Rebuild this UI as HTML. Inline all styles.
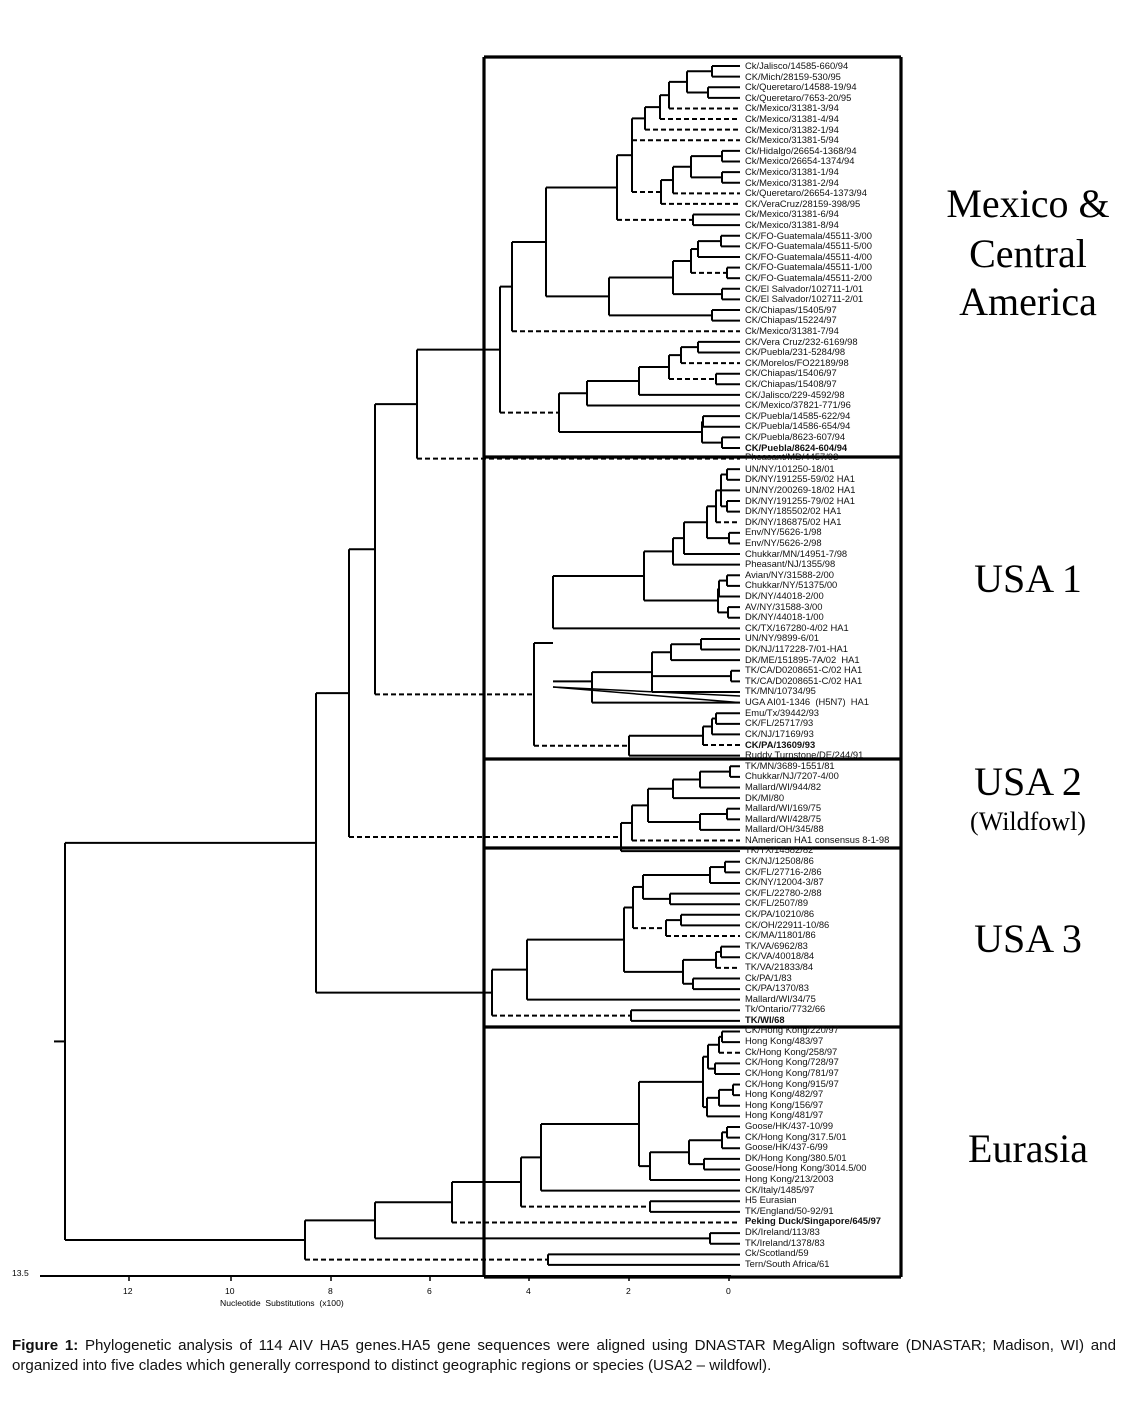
<!DOCTYPE html>
<html><head><meta charset="utf-8">
<style>
body{margin:0;background:#fff;}
#w{position:relative;width:1128px;height:1422px;overflow:hidden;background:#fff;font-family:"Liberation Sans",Arial,sans-serif;}
.l{position:absolute;left:745px;font-size:9.4px;line-height:10px;white-space:nowrap;color:#111;}
.b{font-weight:bold;}
.big{position:absolute;font-family:"Liberation Serif",serif;font-size:40px;text-align:center;width:240px;left:908px;line-height:44px;}
.t{position:absolute;font-size:8.6px;}
.cap{position:absolute;left:12px;width:1104px;font-size:15.1px;line-height:20px;color:#111;white-space:nowrap;}
svg{position:absolute;left:0;top:0;}
</style></head><body><div id="w">
<svg id="s" width="1128" height="1422"></svg>
<div class="l" style="top:61px">Ck/Jalisco/14585-660/94</div>
<div class="l" style="top:72px">CK/Mich/28159-530/95</div>
<div class="l" style="top:82px">Ck/Queretaro/14588-19/94</div>
<div class="l" style="top:93px">Ck/Queretaro/7653-20/95</div>
<div class="l" style="top:103px">Ck/Mexico/31381-3/94</div>
<div class="l" style="top:114px">Ck/Mexico/31381-4/94</div>
<div class="l" style="top:125px">Ck/Mexico/31382-1/94</div>
<div class="l" style="top:135px">Ck/Mexico/31381-5/94</div>
<div class="l" style="top:146px">Ck/Hidalgo/26654-1368/94</div>
<div class="l" style="top:156px">Ck/Mexico/26654-1374/94</div>
<div class="l" style="top:167px">Ck/Mexico/31381-1/94</div>
<div class="l" style="top:178px">Ck/Mexico/31381-2/94</div>
<div class="l" style="top:188px">Ck/Queretaro/26654-1373/94</div>
<div class="l" style="top:199px">CK/VeraCruz/28159-398/95</div>
<div class="l" style="top:209px">Ck/Mexico/31381-6/94</div>
<div class="l" style="top:220px">Ck/Mexico/31381-8/94</div>
<div class="l" style="top:231px">CK/FO-Guatemala/45511-3/00</div>
<div class="l" style="top:241px">CK/FO-Guatemala/45511-5/00</div>
<div class="l" style="top:252px">CK/FO-Guatemala/45511-4/00</div>
<div class="l" style="top:262px">CK/FO-Guatemala/45511-1/00</div>
<div class="l" style="top:273px">CK/FO-Guatemala/45511-2/00</div>
<div class="l" style="top:284px">CK/El Salvador/102711-1/01</div>
<div class="l" style="top:294px">CK/El Salvador/102711-2/01</div>
<div class="l" style="top:305px">CK/Chiapas/15405/97</div>
<div class="l" style="top:315px">CK/Chiapas/15224/97</div>
<div class="l" style="top:326px">Ck/Mexico/31381-7/94</div>
<div class="l" style="top:337px">CK/Vera Cruz/232-6169/98</div>
<div class="l" style="top:347px">CK/Puebla/231-5284/98</div>
<div class="l" style="top:358px">CK/Morelos/FO22189/98</div>
<div class="l" style="top:368px">CK/Chiapas/15406/97</div>
<div class="l" style="top:379px">CK/Chiapas/15408/97</div>
<div class="l" style="top:390px">CK/Jalisco/229-4592/98</div>
<div class="l" style="top:400px">CK/Mexico/37821-771/96</div>
<div class="l" style="top:411px">CK/Puebla/14585-622/94</div>
<div class="l" style="top:421px">CK/Puebla/14586-654/94</div>
<div class="l" style="top:432px">CK/Puebla/8623-607/94</div>
<div class="l b" style="top:443px">CK/Puebla/8624-604/94</div>
<div class="l" style="top:452px">Pheasant/MD/4457/93</div>
<div class="l" style="top:464px">UN/NY/101250-18/01</div>
<div class="l" style="top:474px">DK/NY/191255-59/02 HA1</div>
<div class="l" style="top:485px">UN/NY/200269-18/02 HA1</div>
<div class="l" style="top:496px">DK/NY/191255-79/02 HA1</div>
<div class="l" style="top:506px">DK/NY/185502/02 HA1</div>
<div class="l" style="top:517px">DK/NY/186875/02 HA1</div>
<div class="l" style="top:527px">Env/NY/5626-1/98</div>
<div class="l" style="top:538px">Env/NY/5626-2/98</div>
<div class="l" style="top:549px">Chukkar/MN/14951-7/98</div>
<div class="l" style="top:559px">Pheasant/NJ/1355/98</div>
<div class="l" style="top:570px">Avian/NY/31588-2/00</div>
<div class="l" style="top:580px">Chukkar/NY/51375/00</div>
<div class="l" style="top:591px">DK/NY/44018-2/00</div>
<div class="l" style="top:602px">AV/NY/31588-3/00</div>
<div class="l" style="top:612px">DK/NY/44018-1/00</div>
<div class="l" style="top:623px">CK/TX/167280-4/02 HA1</div>
<div class="l" style="top:633px">UN/NY/9899-6/01</div>
<div class="l" style="top:644px">DK/NJ/117228-7/01-HA1</div>
<div class="l" style="top:655px">DK/ME/151895-7A/02&nbsp; HA1</div>
<div class="l" style="top:665px">TK/CA/D0208651-C/02 HA1</div>
<div class="l" style="top:676px">TK/CA/D0208651-C/02 HA1</div>
<div class="l" style="top:686px">TK/MN/10734/95</div>
<div class="l" style="top:697px">UGA AI01-1346&nbsp; (H5N7)&nbsp; HA1</div>
<div class="l" style="top:708px">Emu/Tx/39442/93</div>
<div class="l" style="top:718px">CK/FL/25717/93</div>
<div class="l" style="top:729px">CK/NJ/17169/93</div>
<div class="l b" style="top:740px">CK/PA/13609/93</div>
<div class="l" style="top:750px">Ruddy Turnstone/DE/244/91</div>
<div class="l" style="top:761px">TK/MN/3689-1551/81</div>
<div class="l" style="top:771px">Chukkar/NJ/7207-4/00</div>
<div class="l" style="top:782px">Mallard/WI/944/82</div>
<div class="l" style="top:793px">DK/MI/80</div>
<div class="l" style="top:803px">Mallard/WI/169/75</div>
<div class="l" style="top:814px">Mallard/WI/428/75</div>
<div class="l" style="top:824px">Mallard/OH/345/88</div>
<div class="l" style="top:835px">NAmerican HA1 consensus 8-1-98</div>
<div class="l" style="top:845px">TK/TX/14582/82</div>
<div class="l" style="top:856px">CK/NJ/12508/86</div>
<div class="l" style="top:867px">CK/FL/27716-2/86</div>
<div class="l" style="top:877px">CK/NY/12004-3/87</div>
<div class="l" style="top:888px">CK/FL/22780-2/88</div>
<div class="l" style="top:898px">CK/FL/2507/89</div>
<div class="l" style="top:909px">CK/PA/10210/86</div>
<div class="l" style="top:920px">CK/OH/22911-10/86</div>
<div class="l" style="top:930px">CK/MA/11801/86</div>
<div class="l" style="top:941px">TK/VA/6962/83</div>
<div class="l" style="top:951px">CK/VA/40018/84</div>
<div class="l" style="top:962px">TK/VA/21833/84</div>
<div class="l" style="top:973px">Ck/PA/1/83</div>
<div class="l" style="top:983px">CK/PA/1370/83</div>
<div class="l" style="top:994px">Mallard/WI/34/75</div>
<div class="l" style="top:1004px">Tk/Ontario/7732/66</div>
<div class="l b" style="top:1015px">TK/WI/68</div>
<div class="l" style="top:1025px">CK/Hong Kong/220/97</div>
<div class="l" style="top:1036px">Hong Kong/483/97</div>
<div class="l" style="top:1047px">Ck/Hong Kong/258/97</div>
<div class="l" style="top:1057px">CK/Hong Kong/728/97</div>
<div class="l" style="top:1068px">CK/Hong Kong/781/97</div>
<div class="l" style="top:1079px">CK/Hong Kong/915/97</div>
<div class="l" style="top:1089px">Hong Kong/482/97</div>
<div class="l" style="top:1100px">Hong Kong/156/97</div>
<div class="l" style="top:1110px">Hong Kong/481/97</div>
<div class="l" style="top:1121px">Goose/HK/437-10/99</div>
<div class="l" style="top:1132px">CK/Hong Kong/317.5/01</div>
<div class="l" style="top:1142px">Goose/HK/437-6/99</div>
<div class="l" style="top:1153px">DK/Hong Kong/380.5/01</div>
<div class="l" style="top:1163px">Goose/Hong Kong/3014.5/00</div>
<div class="l" style="top:1174px">Hong Kong/213/2003</div>
<div class="l" style="top:1185px">CK/Italy/1485/97</div>
<div class="l" style="top:1195px">H5 Eurasian</div>
<div class="l" style="top:1206px">TK/England/50-92/91</div>
<div class="l b" style="top:1216px">Peking Duck/Singapore/645/97</div>
<div class="l" style="top:1227px">DK/Ireland/113/83</div>
<div class="l" style="top:1238px">TK/Ireland/1378/83</div>
<div class="l" style="top:1248px">Ck/Scotland/59</div>
<div class="l" style="top:1259px">Tern/South Africa/61</div>

<div class="big" style="top:182px">Mexico &amp;</div>
<div class="big" style="top:232px">Central</div>
<div class="big" style="top:280px">America</div>
<div class="big" style="top:557px">USA 1</div>
<div class="big" style="top:760px">USA 2</div>
<div class="big" style="top:806px;font-size:26px;line-height:32px">(Wildfowl)</div>
<div class="big" style="top:917px">USA 3</div>
<div class="big" style="top:1127px">Eurasia</div>

<div class="t" style="left:12px;top:1268px">13.5</div>
<div class="t" style="left:123px;top:1286px">12</div>
<div class="t" style="left:225px;top:1286px">10</div>
<div class="t" style="left:328px;top:1286px">8</div>
<div class="t" style="left:427px;top:1286px">6</div>
<div class="t" style="left:526px;top:1286px">4</div>
<div class="t" style="left:626px;top:1286px">2</div>
<div class="t" style="left:726px;top:1286px">0</div>
<div class="t" style="left:220px;top:1298px">Nucleotide&nbsp; Substitutions&nbsp; (x100)</div>

<div class="cap" style="top:1336px;white-space:normal;text-align:justify;text-align-last:justify;height:20px;overflow:hidden"><b>Figure 1:</b> Phylogenetic analysis of 114 AIV HA5 genes.HA5 gene sequences were aligned using DNASTAR MegAlign software (DNASTAR; Madison, WI) and</div>
<div class="cap" style="top:1356px">organized into five clades which generally correspond to distinct geographic regions or species (USA2 – wildfowl).</div>
</div>
<script>
var S=document.getElementById('s'),out='';
function Y(i){return 66+i*10.61;}
function ln(x1,y1,x2,y2,d,w){out+='<line x1="'+x1+'" y1="'+y1+'" x2="'+x2+'" y2="'+y2+'" stroke="#000" stroke-width="'+(w||2)+'"'+(d?' stroke-dasharray="5,3"':'')+'/>';}
function N(x){return {x:x,c:[].slice.call(arguments,1)};}
function D(n){return {dash:true,n:n};}
function lay(n){
 if(typeof n==='number') return {x:740,y:Y(n)};
 if(n.stub) return {x:n.x,y:n.y};
 var ps=n.c.map(function(ch){var d=false;if(ch&&ch.dash){d=true;ch=ch.n;}var p=lay(ch);p.d=d;return p;});
 var y=(ps[0].y+ps[ps.length-1].y)/2;
 ln(n.x,ps[0].y,n.x,ps[ps.length-1].y);
 ps.forEach(function(p){ln(n.x,p.y,p.x,p.y,p.d);});
 return {x:n.x,y:y};
}
var g0=N(687,N(712,0,1),N(708,2,3)),g1=N(669,g0,D(4)),g2=N(660,g1,D(5)),g3=N(645,g2,D(6));
var g4=N(691,N(722,8,9),N(722,10,11)),g5=N(673,g4,D(12)),g6=N(661,g5,D(13));
var n632=N(632,g3,D(7),D(g6)),n617=N(617,n632,D(N(693,14,15)));
var guat=N(691,N(698,N(721,16,17),18),D(N(727,19,20)));
var n609=N(609,N(673,guat,N(722,21,22)),N(712,23,24));
var n546=N(546,n617,n609),n512=N(512,n546,D(25));
var pue=N(559,N(587,N(639,N(669,N(681,N(698,26,27),D(28)),D(N(716,29,30))),31),32),N(702,N(703,33,34),N(722,35,36)));
var n417=N(417,N(500,n512,D(pue)),D(37));
var a=N(721,N(727,38,39),40,N(727,41,42)),b=N(716,a,D(43)),c=N(707,b,N(729,44,45)),d=N(684,c,46),e=N(673,d,47);
var f=N(718,N(719,N(727,48,49),50),N(728,51,52));
var n553=N(553,N(644,e,f),53);
var j=N(629,N(703,N(712,N(716,61,62),63),D(64)),65);
var n534=N(534,{stub:1,x:553,y:643},D(j));
var n375=N(375,n417,D(n534));
var k=N(648,N(673,N(700,N(730,66,67),68),69),N(700,N(727,70,71),72));
var n621=N(621,N(632,k,D(73)),74);
var n349=N(349,n375,D(n621));
var l=N(643,N(710,N(725,75,76),77),N(670,78,79)),m=N(666,N(681,80,81),D(82));
var o=N(683,N(716,N(721,83,84),D(85)),N(693,86,87));
var n492=N(492,N(527,N(624,N(633,l,D(m)),o),88),D(N(631,89,90)));
var n316=N(316,n349,n492);
var p=N(703,N(708,N(719,N(722,91,92),D(93)),N(715,94,95)),N(707,N(719,N(733,96,97),98),99));
var q=N(650,N(689,N(722,N(727,100,101),102),N(704,103,104)),105);
var r=N(541,N(639,p,q),106),s2=N(521,r,D(N(650,107,108))),t=N(452,s2,D(109));
var u=N(375,t,N(710,110,111)),v=N(305,u,D(N(548,112,113)));
var root=lay(N(65,n316,v));
ln(54,root.y,65,root.y);
lay(n553);
var h=N(652,N(671,N(701,54,55),56),N(731,57,58),59);
var r592=lay(N(592,h,60));
ln(553,r592.y-6,592,r592.y-6);
ln(553,687,740,Y(59)+4,false,1.5);ln(553,687,740,Y(60),false,1.5);
var B=3.2;
ln(484,57,484,1277,0,B);ln(901,57,901,1277,0,B);
[57,457,759,848,1027,1277].forEach(function(y){ln(484,y,901,y,0,B);});
ln(40,1276,731,1276,0,2);
[129,231,331,430,529,629,729].forEach(function(x){ln(x,1276,x,1281,0,1.5);});
S.innerHTML=out;
</script>
</body></html>
